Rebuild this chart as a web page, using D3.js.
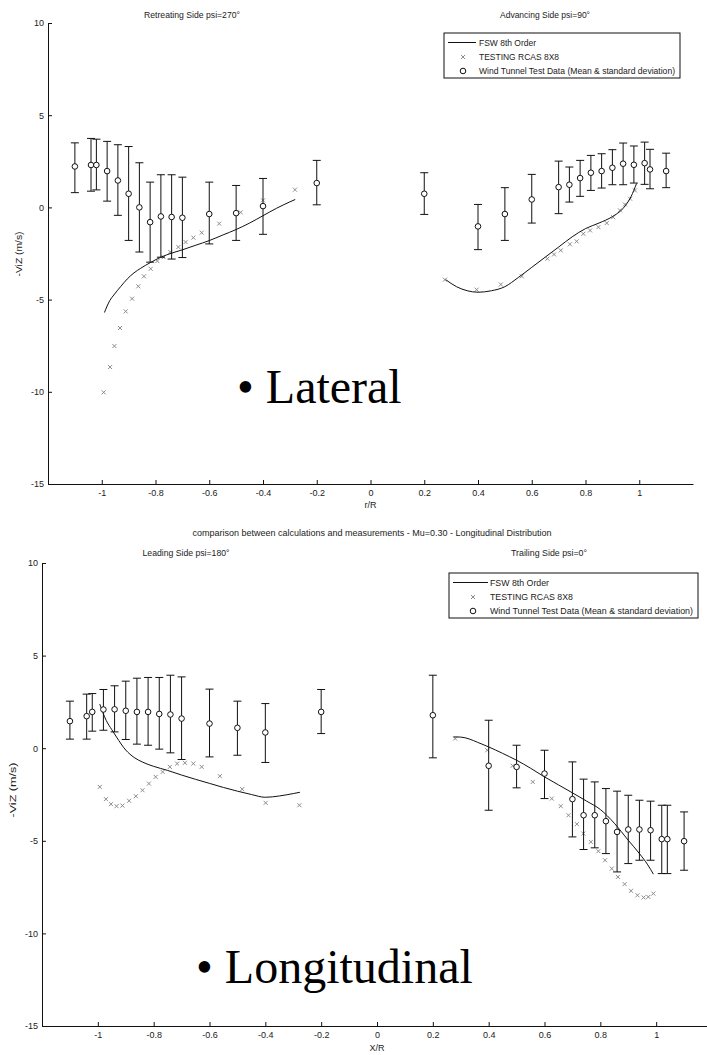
<!DOCTYPE html>
<html>
<head>
<meta charset="utf-8">
<script src="https://cdn.jsdelivr.net/npm/d3@7"></script>
<style>
  body { margin: 0; background: #fff; }
  svg { display: block; }
</style>
</head>
<body>
<svg id="chart" width="707" height="1055"></svg>
<script>
// ---- lateral, retreating side (psi=270) ----
const retWtX    = [-1.1, -1.04, -1.02, -0.98, -0.94, -0.9, -0.86, -0.82, -0.78, -0.74, -0.7, -0.6, -0.5, -0.4, -0.2];
const retWtMean = [2.22, 2.3, 2.3, 1.97, 1.46, 0.74, 0.0, -0.8, -0.49, -0.52, -0.56, -0.36, -0.31, 0.07, 1.32];
const retWtHi   = [3.5, 3.74, 3.7, 3.58, 3.4, 3.3, 2.42, 1.37, 1.77, 1.77, 1.64, 1.37, 1.19, 1.57, 2.55];
const retWtLo   = [0.8, 0.88, 0.95, 0.34, -0.43, -1.79, -2.42, -2.97, -2.7, -2.8, -2.72, -1.98, -1.79, -1.46, 0.14];
const retFswX = [-0.99, -0.97, -0.955, -0.93, -0.905, -0.88, -0.855, -0.82, -0.78, -0.74, -0.7, -0.65, -0.6, -0.55, -0.5, -0.45, -0.4, -0.35, -0.3, -0.28];
const retFswY = [-5.7, -5.05, -4.75, -4.3, -3.88, -3.55, -3.3, -3.0, -2.7, -2.48, -2.3, -2.05, -1.8, -1.5, -1.2, -0.85, -0.45, -0.05, 0.3, 0.43];
const retRcasX = [-0.993, -0.969, -0.953, -0.932, -0.911, -0.887, -0.864, -0.843, -0.818, -0.793, -0.77, -0.745, -0.715, -0.688, -0.659, -0.628, -0.563, -0.483, -0.4, -0.281];
const retRcasY = [-10.03, -8.66, -7.52, -6.54, -5.64, -4.95, -4.28, -3.74, -3.33, -2.91, -2.7, -2.42, -2.15, -1.88, -1.64, -1.37, -0.88, -0.27, 0.38, 0.96];

// ---- lateral, advancing side (psi=90) ----
const advWtX    = [0.2, 0.4, 0.5, 0.6, 0.7, 0.74, 0.78, 0.82, 0.86, 0.9, 0.94, 0.98, 1.02, 1.04, 1.1];
const advWtMean = [0.74, -1.03, -0.36, 0.43, 1.1, 1.23, 1.59, 1.88, 1.97, 2.15, 2.37, 2.31, 2.4, 2.06, 1.97];
const advWtHi   = [1.88, 0.16, 1.07, 1.79, 2.51, 2.19, 2.55, 2.82, 2.91, 3.13, 3.49, 3.33, 3.54, 3.15, 2.94];
const advWtLo   = [-0.38, -2.29, -1.79, -0.85, -0.34, 0.29, 0.6, 0.92, 1.05, 1.23, 1.23, 1.32, 1.25, 1.01, 1.07];
const advFswX = [0.28, 0.32, 0.36, 0.4, 0.45, 0.5, 0.55, 0.6, 0.65, 0.7, 0.75, 0.8, 0.85, 0.9, 0.94, 0.97, 0.99];
const advFswY = [-3.92, -4.3, -4.52, -4.6, -4.52, -4.3, -3.8, -3.25, -2.7, -2.15, -1.6, -1.15, -0.85, -0.5, -0.05, 0.6, 1.3];
const advRcasX = [0.277, 0.395, 0.485, 0.563, 0.658, 0.683, 0.708, 0.742, 0.767, 0.792, 0.817, 0.848, 0.879, 0.903, 0.928, 0.947, 0.966, 0.984];
const advRcasY = [-3.92, -4.46, -4.18, -3.74, -2.78, -2.55, -2.33, -2.0, -1.84, -1.43, -1.25, -1.07, -0.85, -0.53, -0.16, 0.16, 0.47, 0.92];

// ---- longitudinal, leading side (psi=180) ----
const leadWtX    = [-1.1, -1.04, -1.02, -0.98, -0.94, -0.9, -0.86, -0.82, -0.78, -0.74, -0.7, -0.6, -0.5, -0.4, -0.2];
const leadWtMean = [1.46, 1.73, 1.96, 2.09, 2.1, 2.02, 1.96, 1.96, 1.85, 1.82, 1.6, 1.33, 1.1, 0.85, 1.96];
const leadWtHi   = [2.54, 2.92, 2.95, 3.17, 3.37, 3.62, 3.78, 3.82, 3.82, 3.94, 3.85, 3.19, 2.54, 2.41, 3.17];
const leadWtLo   = [0.49, 0.49, 0.92, 0.97, 0.88, 0.47, 0.22, 0.16, -0.05, -0.25, -0.61, -0.47, -0.38, -0.77, 0.79];
const leadFswX = [-0.993, -0.97, -0.95, -0.933, -0.9, -0.87, -0.84, -0.8, -0.75, -0.7, -0.65, -0.6, -0.55, -0.5, -0.45, -0.4, -0.35, -0.3, -0.276];
const leadFswY = [2.38, 1.5, 1.0, 0.6, -0.1, -0.5, -0.75, -0.98, -1.2, -1.45, -1.68, -1.9, -2.12, -2.32, -2.5, -2.65, -2.58, -2.45, -2.38];
const leadRcasX = [-0.993, -0.971, -0.953, -0.933, -0.912, -0.888, -0.864, -0.84, -0.817, -0.793, -0.768, -0.742, -0.716, -0.688, -0.658, -0.628, -0.563, -0.483, -0.399, -0.278];
const leadRcasY = [-2.09, -2.75, -3.02, -3.13, -3.1, -2.84, -2.59, -2.27, -1.91, -1.55, -1.28, -1.01, -0.83, -0.79, -0.83, -1.01, -1.51, -2.21, -2.95, -3.08];

// ---- longitudinal, trailing side (psi=0) ----
const trailWtX    = [0.2, 0.4, 0.5, 0.6, 0.7, 0.74, 0.78, 0.82, 0.86, 0.9, 0.94, 0.98, 1.02, 1.04, 1.1];
const trailWtMean = [1.78, -0.95, -1.01, -1.37, -2.75, -3.62, -3.62, -3.94, -4.52, -4.39, -4.39, -4.43, -4.91, -4.91, -5.02];
const trailWtHi   = [3.94, 1.51, 0.16, -0.11, -0.74, -1.67, -1.82, -2.18, -2.32, -2.54, -2.81, -2.86, -3.08, -3.08, -3.44];
const trailWtLo   = [-0.52, -3.35, -2.14, -2.72, -4.79, -5.47, -5.38, -5.69, -6.68, -6.23, -6.05, -6.05, -6.77, -6.77, -6.59];
const trailFswX = [0.274, 0.3, 0.33, 0.36, 0.4, 0.45, 0.5, 0.55, 0.6, 0.65, 0.7, 0.75, 0.8, 0.85, 0.9, 0.94, 0.97, 0.99];
const trailFswY = [0.61, 0.6, 0.5, 0.32, 0.07, -0.28, -0.65, -1.08, -1.55, -1.98, -2.41, -2.85, -3.31, -4.05, -4.97, -5.69, -6.3, -6.8];
const trailRcasX = [0.28, 0.395, 0.486, 0.558, 0.626, 0.658, 0.686, 0.716, 0.739, 0.766, 0.793, 0.817, 0.841, 0.863, 0.887, 0.91, 0.933, 0.955, 0.972, 0.99];
const trailRcasY = [0.52, -0.11, -0.95, -1.82, -2.72, -3.13, -3.62, -4.1, -4.61, -5.06, -5.56, -6.05, -6.5, -6.95, -7.34, -7.7, -7.94, -8.06, -8.03, -7.85];

// ---- axes / labels ----
const xTicks = [-1, -0.8, -0.6, -0.4, -0.2, 0, 0.2, 0.4, 0.6, 0.8, 1];
const yTicks = [-15, -10, -5, 0, 5, 10];
const legendLabels = ["FSW 8th Order", "TESTING RCAS 8X8", "Wind Tunnel Test Data (Mean & standard deviation)"];
const yLabel = "-ViZ (m/s)";

const svg = d3.select("#chart");
const FONT = "Liberation Sans, Arial, sans-serif";
const GREY = "#8c8c8c";

function side(x, mean, hi, lo, fx, fy, rx, ry) {
  return {
    wt: x.map((v, i) => ({x: v, m: mean[i], hi: hi[i], lo: lo[i]})),
    fsw: fx.map((v, i) => ({x: v, y: fy[i]})),
    rcas: rx.map((v, i) => ({x: v, y: ry[i]}))
  };
}

function drawPanel(p) {
  const x = d3.scaleLinear().domain([-1.2, 1.2]).range(p.xr);
  const y = d3.scaleLinear().domain([-15, 10]).range(p.yr);
  const g = svg.append("g");
  const k = p.k; // width squeeze of the small text

  const fmt = d => String(+d.toFixed(1));
  const xa = g.append("g").attr("transform", `translate(0,${p.yr[0]})`)
    .call(d3.axisBottom(x).tickValues(xTicks).tickSize(-4).tickSizeOuter(0).tickPadding(6).tickFormat(fmt));
  const ya = g.append("g").attr("transform", `translate(${p.xr[0]},0)`)
    .call(d3.axisLeft(y).tickValues(yTicks).tickSize(-4).tickSizeOuter(0).tickPadding(4).tickFormat(fmt));
  [xa, ya].forEach(a => {
    a.attr("font-family", FONT).attr("font-size", 9);
    a.select(".domain").attr("stroke", "#111");
    a.selectAll(".tick line").attr("stroke", "#111");
    a.selectAll("text").attr("fill", "#222");
  });

  const smallText = (tx, ty, str, w, anchor) => {
    const t = g.append("text").attr("x", tx).attr("y", ty)
      .attr("font-family", FONT).attr("font-size", 9).attr("fill", "#222")
      .attr("text-anchor", anchor || "middle").text(str);
    if (w) t.attr("textLength", w).attr("lengthAdjust", "spacingAndGlyphs");
    return t;
  };

  // titles and axis labels
  p.titles.forEach(t => smallText(t.x, t.y, t.text, t.w));
  smallText(x(0), p.xLabelY, p.xLabel, null);
  g.append("text")
    .attr("transform", `translate(${p.yLabelX},${p.yLabelY}) rotate(-90)`)
    .attr("font-family", FONT).attr("font-size", 9).attr("fill", "#222")
    .attr("text-anchor", "middle").attr("textLength", p.yLabelW)
    .attr("lengthAdjust", "spacingAndGlyphs").text(yLabel);

  const line = d3.line().x(d => x(d.x)).y(d => y(d.y)).curve(d3.curveMonotoneX);
  const cross = (sel, s) => sel.attr("d", `M${-s},${-s}L${s},${s}M${-s},${s}L${s},${-s}`)
    .attr("stroke", GREY).attr("stroke-width", 1).attr("fill", "none");

  p.sides.forEach(sd => {
    // RCAS crosses
    g.append("g").selectAll("path").data(sd.rcas).join("path")
      .attr("transform", d => `translate(${x(d.x)},${y(d.y)})`)
      .call(cross, 2);
    // FSW curve
    g.append("path").datum(sd.fsw).attr("d", line)
      .attr("fill", "none").attr("stroke", "#111").attr("stroke-width", 1);
    // wind tunnel error bars
    const eb = g.append("g").selectAll("g").data(sd.wt).join("g")
      .attr("stroke", "#111").attr("stroke-width", 1).attr("fill", "none");
    eb.append("line").attr("x1", d => x(d.x)).attr("x2", d => x(d.x))
      .attr("y1", d => y(d.hi)).attr("y2", d => y(d.lo));
    eb.append("line").attr("x1", d => x(d.x) - 4).attr("x2", d => x(d.x) + 4)
      .attr("y1", d => y(d.hi)).attr("y2", d => y(d.hi));
    eb.append("line").attr("x1", d => x(d.x) - 4).attr("x2", d => x(d.x) + 4)
      .attr("y1", d => y(d.lo)).attr("y2", d => y(d.lo));
    eb.append("circle").attr("cx", d => x(d.x)).attr("cy", d => y(d.m)).attr("r", 2.8)
      .attr("fill", "#fff");
  });

  // legend
  const L = p.legend;
  g.append("rect").attr("x", L.x).attr("y", L.y).attr("width", L.w).attr("height", L.h)
    .attr("fill", "#fff").attr("stroke", "#111").attr("stroke-width", 1);
  const rows = [L.y + 9.5, L.y + 24, L.y + 38];
  g.append("line").attr("x1", L.x + 4).attr("x2", L.x + L.lineW).attr("y1", rows[0]).attr("y2", rows[0])
    .attr("stroke", "#111");
  g.append("path").attr("transform", `translate(${L.x + L.mark},${rows[1]})`).call(cross, 2);
  g.append("circle").attr("cx", L.x + L.mark).attr("cy", rows[2]).attr("r", 2.8)
    .attr("fill", "#fff").attr("stroke", "#111");
  legendLabels.forEach((s, i) => smallText(L.x + L.text, rows[i] + 3.2, s, L.tw[i], "start"));

  // big slide caption
  g.append("text").attr("x", p.big.x).attr("y", p.big.y)
    .attr("font-family", "Liberation Serif, Times New Roman, serif").attr("font-size", 48)
    .attr("fill", "#000").text(p.big.text);
}

drawPanel({
  xr: [48, 693], yr: [484, 23], k: 1,
  titles: [
    {x: 192, y: 18, text: "Retreating Side  psi=270°", w: 96},
    {x: 545, y: 18, text: "Advancing Side  psi=90°", w: 90}
  ],
  xLabel: "r/R", xLabelY: 508,
  yLabelX: 22, yLabelY: 254, yLabelW: 45,
  legend: {x: 444, y: 33, w: 236, h: 45, lineW: 32, mark: 19, text: 35, tw: [57, 80, 196]},
  big: {x: 237, y: 403, text: "• Lateral"},
  sides: [
    side(retWtX, retWtMean, retWtHi, retWtLo, retFswX, retFswY, retRcasX, retRcasY),
    side(advWtX, advWtMean, advWtHi, advWtLo, advFswX, advFswY, advRcasX, advRcasY)
  ]
});

drawPanel({
  xr: [42, 712], yr: [1026, 563], k: 1.037,
  titles: [
    {x: 372, y: 536, text: "comparison between calculations and measurements  -  Mu=0.30  -  Longitudinal Distribution", w: 359},
    {x: 186, y: 556, text: "Leading Side psi=180°", w: 87},
    {x: 549, y: 556, text: "Trailing Side psi=0°", w: 76}
  ],
  xLabel: "X/R", xLabelY: 1051,
  yLabelX: 16, yLabelY: 790, yLabelW: 55,
  legend: {x: 449, y: 573, w: 249, h: 45, lineW: 39, mark: 24, text: 41, tw: [59, 83, 203]},
  big: {x: 196, y: 983, text: "• Longitudinal"},
  sides: [
    side(leadWtX, leadWtMean, leadWtHi, leadWtLo, leadFswX, leadFswY, leadRcasX, leadRcasY),
    side(trailWtX, trailWtMean, trailWtHi, trailWtLo, trailFswX, trailFswY, trailRcasX, trailRcasY)
  ]
});
</script>
</body>
</html>
